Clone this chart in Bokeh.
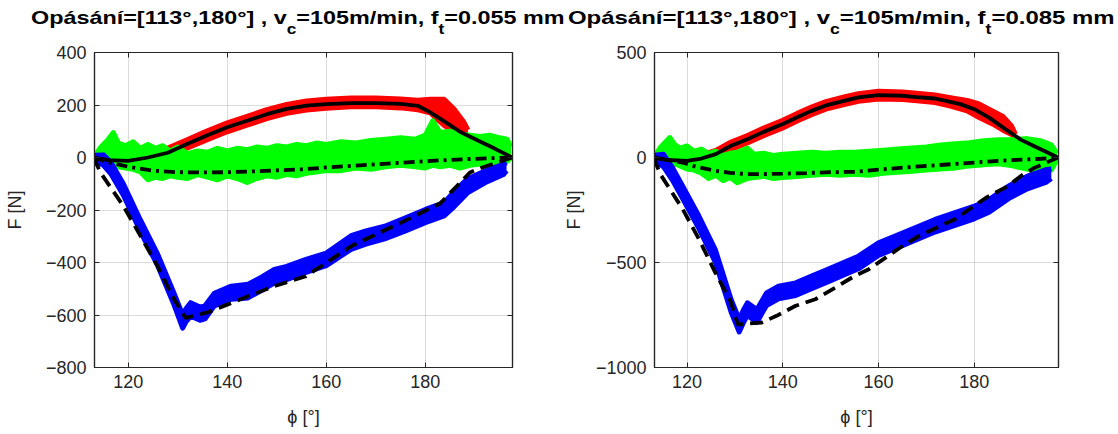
from bokeh.plotting import figure
from bokeh.models import Range1d, LinearAxis, FixedTicker, Div
from bokeh.layouts import column, row
from bokeh.embed import file_html
from bokeh.resources import INLINE

# ---------------- data ----------------
TITLE_LEFT = ("Opásání=[113°,180°] , v", "c", "=105m/min, f", "t", "=0.055 mm")
TITLE_RIGHT = ("Opásání=[113°,180°] , v", "c", "=105m/min, f", "t", "=0.085 mm")
X_LABEL = "ϕ [°]"
Y_LABEL = "F [N]"
X_TICKS = [120, 140, 160, 180]
Y_TICKS_LEFT = [-800, -600, -400, -200, 0, 200, 400]
Y_TICKS_RIGHT = [-1000, -500, 0, 500]
X_LIM = (113.2, 197.6)
Y_LIM_LEFT = (-800, 400)
Y_LIM_RIGHT = (-1000, 500)

# ---- left panel (f_t = 0.055 mm) ----
# measured Fc (red band)
l_red_x = [113, 116, 120, 124, 128, 132, 136, 140, 144, 148, 152, 156, 160, 165, 170, 175, 178.5, 181, 183.8, 185.8, 187.8, 188.6]
l_red_lo = [-12, -22, -26, -12, 5, 36, 68, 98, 123, 148, 168, 181, 188, 193, 193, 189, 182, 170, 122, 100, 80, 85]
l_red_hi = [8, 4, 2, 16, 36, 68, 102, 132, 157, 182, 202, 215, 222, 227, 227, 223, 218, 222, 222, 185, 134, 105]
# measured Fp (green band)
l_grn_x = [113, 114.5, 116, 117, 118, 119.5, 121, 122.5, 124, 125.5, 127, 128.5, 130, 132, 134, 136, 138, 140, 142, 144, 146, 148, 150, 152, 154, 156, 158, 160, 163, 166, 169, 172, 175, 178, 180, 181.5, 183, 185, 187, 189, 191, 193, 195, 196.5, 197.3]
l_grn_hi = [0, 40, 70, 95, 55, 45, 60, 35, 50, 35, 45, 25, 40, 15, 25, 20, 35, 25, 35, 30, 40, 35, 45, 40, 50, 45, 55, 50, 60, 55, 65, 70, 75, 70, 85, 140, 95, 100, 90, 85, 80, 85, 75, 70, 40]
l_grn_lo = [0, -15, -20, -25, -35, -40, -45, -55, -85, -75, -80, -70, -75, -80, -65, -75, -85, -70, -80, -95, -80, -70, -75, -65, -70, -60, -55, -50, -50, -40, -45, -35, -30, -35, -40, -30, -35, -30, -40, -30, -25, -35, -20, -15, 0]
# measured Ff (blue band)
l_blu_x = [113, 115, 116.5, 119, 122.5, 125.9, 129.3, 131, 131.7, 132.6, 134.5, 135.5, 137.4, 140.8, 144.2, 147, 149.5, 152, 155.9, 160, 165, 168, 171.8, 176, 180, 183.8, 185.8, 188.5, 192.5, 195.8, 196.4]
l_blu_lo = [-10, -30, -62, -143, -283, -410, -563, -650, -625, -605, -620, -615, -565, -540, -535, -505, -478, -465, -438, -412, -350, -330, -310, -280, -248, -222, -188, -135, -92, -65, -50]
l_blu_hi = [8, 10, -18, -99, -239, -366, -519, -600, -575, -553, -570, -565, -517, -490, -483, -455, -426, -415, -388, -364, -298, -280, -262, -230, -198, -172, -130, -81, -48, -25, -20]
# model Fc (solid)
l_fc_x = [113, 116, 120, 124, 128, 132, 136, 140, 144, 148, 152, 156, 160, 165, 170, 175, 178.5, 181, 184, 187, 190.5, 194, 197.5]
l_fc_y = [0, -10, -13, 0, 18, 52, 85, 115, 140, 165, 185, 198, 203, 207, 207, 204, 197, 172, 136, 98, 66, 34, 0]
# model Fp (dash-dot)
l_fp_x = [113, 116, 120, 125, 130, 135, 140, 145, 150, 155, 160, 165, 170, 175, 180, 185, 190, 194, 197.5]
l_fp_y = [0, -18, -35, -50, -56, -57, -56, -53, -49, -45, -38, -32, -26, -20, -14, -9, -5, -2, 0]
# model Ff (dashed)
l_ff_x = [113, 114.4, 119, 122.5, 125.9, 129.3, 131.6, 136, 149.5, 155.9, 165.1, 175.1, 183, 189, 191.5, 197.5]
l_ff_y = [0, -57, -184, -299, -413, -541, -611, -590, -490, -452, -337, -248, -175, -57, -38, 0]

# ---- right panel (f_t = 0.085 mm) ----
r_red_x = [113, 116, 120, 123, 126, 129.2, 132.6, 136, 140, 143, 146, 149, 152.8, 155.8, 160, 165, 168, 171.8, 175, 178.5, 181, 183.8, 186, 187.8, 188.6]
r_red_lo = [-18, -30, -34, -23, -2, 38, 69, 104, 141, 174, 204, 230, 252, 268, 279, 276, 270, 262, 245, 222, 190, 160, 130, 110, 95]
r_red_hi = [18, 6, 2, 13, 34, 74, 105, 140, 177, 210, 240, 266, 288, 304, 315, 312, 306, 298, 285, 272, 255, 222, 195, 150, 110]
r_grn_x = [113, 114.5, 116.4, 117.5, 118.5, 120, 121.5, 123, 124.5, 126, 127.5, 129, 130.5, 132.6, 134, 136, 138, 140, 143, 146, 149, 152, 155, 158, 161, 164, 167, 170, 173, 176, 179, 182, 185, 188, 191, 193.8, 196.1, 197.3]
r_grn_hi = [0, 50, 95, 60, 45, 55, 30, 40, 20, 30, 10, 20, 25, 45, 15, 20, 10, 15, 20, 25, 20, 25, 25, 30, 35, 40, 45, 50, 60, 65, 70, 80, 85, 85, 90, 80, 60, 20]
r_grn_lo = [0, -10, -20, -30, -40, -55, -60, -75, -100, -85, -110, -95, -120, -100, -95, -90, -100, -95, -90, -85, -80, -85, -80, -85, -75, -70, -65, -60, -55, -50, -40, -35, -30, -40, -55, -70, -60, -10]
r_blu_x = [113, 115.1, 117, 119.1, 122.5, 125.9, 129.2, 130.9, 131.7, 132.6, 134.6, 136.6, 139.1, 142.7, 146, 149.4, 155.8, 160, 165.1, 171.8, 180, 183.1, 187.1, 191.1, 195.1, 196.1]
r_blu_lo = [-12, -45, -110, -197, -340, -498, -736, -831, -790, -752, -784, -705, -673, -657, -625, -593, -530, -466, -419, -355, -292, -260, -197, -149, -117, -100]
r_blu_hi = [10, 15, -50, -137, -280, -438, -676, -771, -730, -692, -724, -645, -613, -597, -565, -533, -470, -406, -359, -295, -232, -200, -137, -89, -57, -55]
r_fc_x = [113, 116, 120, 123, 126, 129.2, 132.6, 136, 140, 143, 146, 149, 152.8, 155.8, 160, 165, 168, 171.8, 175, 177.1, 180, 183.1, 186.5, 189.8, 193.1, 197.5]
r_fc_y = [0, -12, -16, -5, 16, 56, 87, 122, 159, 192, 222, 248, 270, 286, 297, 294, 288, 281, 265, 254, 230, 190, 135, 84, 48, 0]
r_fp_x = [113, 116, 119.1, 122, 125.9, 129, 132.6, 136, 140, 145, 150, 155.1, 160, 165.1, 170, 175.1, 180, 185.1, 190, 194, 197.5]
r_fp_y = [0, -12, -24, -45, -63, -73, -79, -79, -77, -74, -70, -68, -58, -48, -40, -32, -24, -16, -10, -6, 0]
r_ff_x = [113, 114.4, 119.1, 122.5, 125.9, 129.2, 130.6, 135.6, 138.7, 142.7, 146.8, 151.6, 155.1, 158, 165.1, 168.5, 173, 176, 180, 182.6, 187.1, 189.8, 192.5, 197.5]
r_ff_y = [0, -79, -246, -389, -548, -690, -795, -786, -754, -706, -675, -611, -563, -532, -420, -373, -325, -294, -230, -190, -135, -87, -50, 0]

# ---------------- styling ----------------
AX_COL = "#262626"
FONT = "Liberation Sans"


def style_axis(ax, ticks, show_labels=True, standoff=8):
    ax.ticker = FixedTicker(ticks=ticks)
    ax.major_tick_in = 5
    ax.major_tick_out = 0
    ax.minor_tick_line_color = None
    ax.axis_line_color = AX_COL
    ax.axis_line_width = 1.2
    ax.major_tick_line_color = AX_COL
    ax.major_label_text_font = FONT
    ax.major_label_text_font_size = "18px"
    ax.major_label_text_color = AX_COL
    ax.major_label_standoff = standoff
    ax.axis_label_text_font = FONT
    ax.axis_label_text_font_size = "18px"
    ax.axis_label_text_font_style = "normal"
    ax.axis_label_text_color = AX_COL
    if not show_labels:
        ax.major_label_overrides = {t: "" for t in ticks}
        ax.major_label_standoff = 0


def band(p, x, lo, hi, color):
    p.varea(x=x, y1=lo, y2=hi, fill_color=color)
    p.line(x, lo, line_color=color, line_width=5, line_join="round")
    p.line(x, hi, line_color=color, line_width=5, line_join="round")


def panel(width, border_left, border_right, ylim, yticks, ylab_standoff, d):
    p = figure(width=width, height=397, output_backend="svg", toolbar_location=None,
               x_range=Range1d(*X_LIM), y_range=Range1d(*ylim),
               min_border_left=border_left, min_border_right=border_right,
               min_border_top=16, min_border_bottom=66,
               x_axis_label=X_LABEL, y_axis_label=Y_LABEL)
    p.border_fill_alpha = 0
    p.background_fill_color = "white"
    p.outline_line_color = AX_COL
    p.outline_line_width = 1.2
    style_axis(p.xaxis[0], X_TICKS, standoff=7)
    p.xaxis[0].axis_label_standoff = 16
    style_axis(p.yaxis[0], yticks, standoff=8)
    p.yaxis[0].axis_label_standoff = ylab_standoff
    top = LinearAxis()
    style_axis(top, X_TICKS, show_labels=False)
    p.add_layout(top, "above")
    right = LinearAxis()
    style_axis(right, yticks, show_labels=False)
    p.add_layout(right, "right")
    p.xgrid.ticker = FixedTicker(ticks=X_TICKS)
    p.ygrid.ticker = FixedTicker(ticks=yticks)
    for g in (p.xgrid, p.ygrid):
        g.grid_line_color = AX_COL
        g.grid_line_alpha = 0.16
        g.grid_line_width = 1

    band(p, d["red_x"], d["red_lo"], d["red_hi"], "#ff0000")
    band(p, d["grn_x"], d["grn_lo"], d["grn_hi"], "#00ff00")
    band(p, d["blu_x"], d["blu_lo"], d["blu_hi"], "#0000ff")
    p.line(d["fc_x"], d["fc_y"], line_color="black", line_width=3.8)
    p.line(d["fp_x"], d["fp_y"], line_color="black", line_width=3.8, line_dash="11 5 3 5")
    p.line(d["ff_x"], d["ff_y"], line_color="black", line_width=3.8, line_dash="13 7")
    return p


left_data = dict(red_x=l_red_x, red_lo=l_red_lo, red_hi=l_red_hi,
                 grn_x=l_grn_x, grn_lo=l_grn_lo, grn_hi=l_grn_hi,
                 blu_x=l_blu_x, blu_lo=l_blu_lo, blu_hi=l_blu_hi,
                 fc_x=l_fc_x, fc_y=l_fc_y, fp_x=l_fp_x, fp_y=l_fp_y, ff_x=l_ff_x, ff_y=l_ff_y)
right_data = dict(red_x=r_red_x, red_lo=r_red_lo, red_hi=r_red_hi,
                  grn_x=r_grn_x, grn_lo=r_grn_lo, grn_hi=r_grn_hi,
                  blu_x=r_blu_x, blu_lo=r_blu_lo, blu_hi=r_blu_hi,
                  fc_x=r_fc_x, fc_y=r_fc_y, fp_x=r_fp_x, fp_y=r_fp_y, ff_x=r_ff_x, ff_y=r_ff_y)

p1 = panel(560, 94, 48, Y_LIM_LEFT, Y_TICKS_LEFT, 18, left_data)
p2 = panel(550, 81, 52, Y_LIM_RIGHT, Y_TICKS_RIGHT, 9, right_data)


def title_html(parts, left, scale):
    sub = "position:relative;top:10px;font-size:14px;"
    return (f'<span style="position:absolute;left:{left}px;top:8px;line-height:19px;'
            f'transform:scaleX({scale});transform-origin:0 0;white-space:nowrap;">'
            f'{parts[0]}<span style="{sub}">{parts[1]}</span>{parts[2]}'
            f'<span style="{sub}">{parts[3]}</span>{parts[4]}</span>')


html = ('<div style="position:relative;width:1110px;height:36px;overflow:visible;'
        f'font-family:\'{FONT}\',Arial,sans-serif;font-weight:bold;font-size:19px;color:#000;">'
        + title_html(TITLE_LEFT, 31, 1.23) + title_html(TITLE_RIGHT, 568, 1.26) + '</div>')
title = Div(text=html, width=1110, height=36, margin=(0, 0, 0, 0), styles={"overflow": "visible"})

layout = column(title, row(p1, p2, spacing=0), spacing=0)
open("out.html", "w").write(file_html(layout, INLINE))
